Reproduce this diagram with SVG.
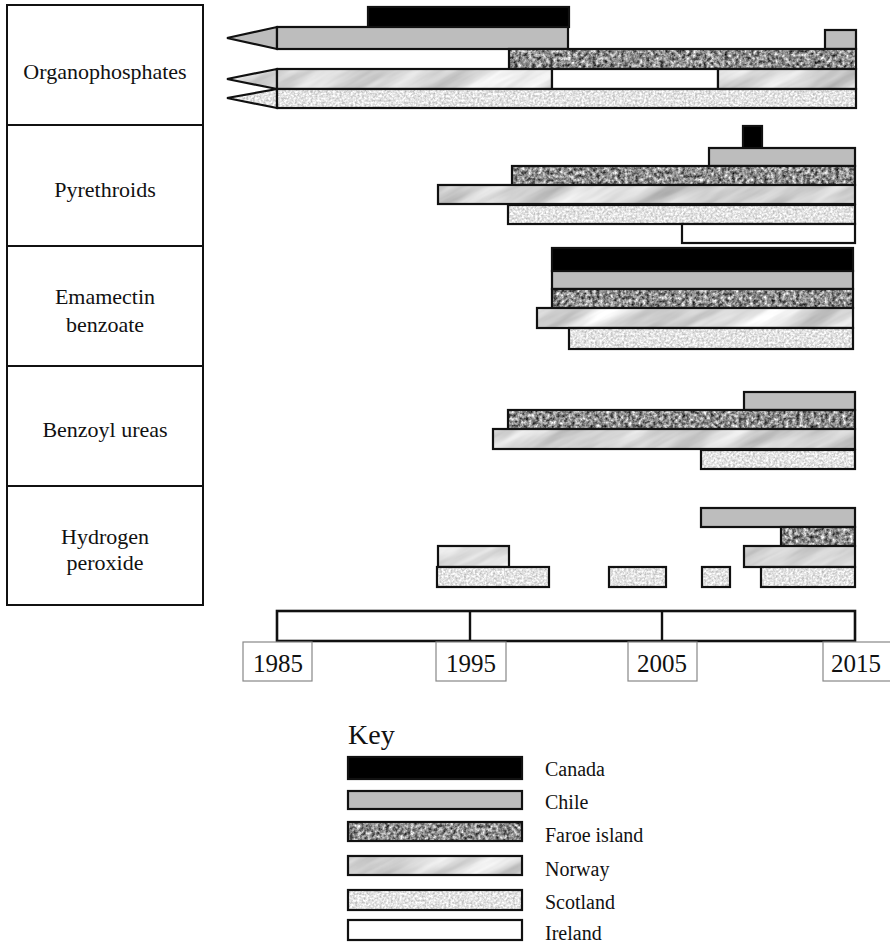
<svg xmlns="http://www.w3.org/2000/svg" width="890" height="946" viewBox="0 0 890 946">
<style>
.cat{fill:#fff;stroke:#111;stroke-width:2}
.lbl{font-family:"Liberation Serif","Times New Roman",serif;font-size:22px;fill:#111;text-anchor:middle}
.yr{font-family:"Liberation Serif","Times New Roman",serif;font-size:25px;fill:#111;text-anchor:middle}
.key{font-family:"Liberation Serif","Times New Roman",serif;font-size:20px;fill:#111}
.b{stroke:#111;stroke-width:2.2;stroke-linejoin:miter}
.ca{fill:#000}
.ch{fill:#bdbdbd}
.fa{fill:url(#pFaroe)}
.no{fill:url(#pNorway)}
.sc{fill:url(#pScot)}
.ir{fill:#fff}
.ybox{fill:#fff;stroke:#888;stroke-width:1.2}
</style>
<defs>
<filter id="fGranite" x="0" y="0" width="1" height="1" filterUnits="objectBoundingBox" color-interpolation-filters="sRGB">
<feTurbulence type="fractalNoise" baseFrequency="0.28" numOctaves="3" seed="4"/>
<feColorMatrix type="matrix" values="1.35 0 0 0 -0.12  1.35 0 0 0 -0.12  1.35 0 0 0 -0.12  0 0 0 0 1"/>
</filter>
<filter id="fMarble" x="0" y="0" width="1" height="1" filterUnits="objectBoundingBox" color-interpolation-filters="sRGB">
<feTurbulence type="fractalNoise" baseFrequency="0.008 0.05" numOctaves="4" seed="7"/>
<feColorMatrix type="matrix" values="0.45 0 0 0 0.62  0.45 0 0 0 0.62  0.45 0 0 0 0.62  0 0 0 0 1"/>
</filter>
<filter id="fScot" x="0" y="0" width="1" height="1" filterUnits="objectBoundingBox" color-interpolation-filters="sRGB">
<feTurbulence type="fractalNoise" baseFrequency="0.45" numOctaves="2" seed="2"/>
<feColorMatrix type="matrix" values="0.5 0 0 0 0.64  0.5 0 0 0 0.64  0.5 0 0 0 0.64  0 0 0 0 1"/>
</filter>
<pattern id="pFaroe" patternUnits="userSpaceOnUse" x="0" y="0" width="890" height="946">
<rect width="890" height="946" filter="url(#fGranite)"/>
</pattern>
<pattern id="pNorway" patternUnits="userSpaceOnUse" x="0" y="0" width="890" height="946">
<rect width="890" height="946" fill="#d6d6d6"/>
<rect x="-600" y="-600" width="2100" height="2100" transform="rotate(-28 445 473)" filter="url(#fMarble)"/>
</pattern>
<pattern id="pScot" patternUnits="userSpaceOnUse" x="0" y="0" width="890" height="946">
<rect width="890" height="946" filter="url(#fScot)"/>
</pattern>
</defs>
<rect width="890" height="946" fill="#fff"/>

<g id="categories">
<g id="cat-organophosphates"><rect class="cat" x="7" y="5" width="196" height="120"/><text class="lbl" x="105" y="79">Organophosphates</text></g>
<g id="cat-pyrethroids"><rect class="cat" x="7" y="125" width="196" height="121"/><text class="lbl" x="105" y="197">Pyrethroids</text></g>
<g id="cat-emamectin"><rect class="cat" x="7" y="246" width="196" height="120"/><text class="lbl" x="105" y="304">Emamectin</text><text class="lbl" x="105" y="332">benzoate</text></g>
<g id="cat-benzoyl"><rect class="cat" x="7" y="366" width="196" height="120"/><text class="lbl" x="105" y="437">Benzoyl ureas</text></g>
<g id="cat-h2o2"><rect class="cat" x="7" y="486" width="196" height="119"/><text class="lbl" x="105" y="544">Hydrogen</text><text class="lbl" x="105" y="570">peroxide</text></g>
</g>

<g id="bars-organophosphates">
<rect class="b ca" x="368" y="7" width="201" height="20"/>
<polygon class="b ch" points="227,38 277,27 277,49"/>
<rect class="b ch" x="277" y="27" width="291" height="22"/>
<rect class="b ch" x="825" y="30" width="31" height="19"/>
<rect class="b fa" x="509" y="49" width="347" height="20"/>
<polygon class="b no" points="227,79 277,69 277,89"/>
<rect class="b no" x="277" y="69" width="275" height="20"/>
<rect class="b ir" x="552" y="69" width="166" height="20"/>
<rect class="b no" x="718" y="69" width="138" height="20"/>
<polygon class="b sc" points="227,98 277,89 277,108"/>
<rect class="b sc" x="277" y="89" width="579" height="19"/>
</g>

<g id="bars-pyrethroids">
<rect class="b ca" x="743" y="126" width="19" height="22"/>
<rect class="b ch" x="709" y="148" width="146" height="18"/>
<rect class="b fa" x="512" y="166" width="343" height="19"/>
<rect class="b no" x="438" y="185" width="417" height="19"/>
<rect class="b sc" x="508" y="205" width="347" height="19"/>
<rect class="b ir" x="682" y="224" width="173" height="19"/>
</g>

<g id="bars-emamectin">
<rect class="b ca" x="552" y="248" width="301" height="23"/>
<rect class="b ch" x="552" y="271" width="301" height="18"/>
<rect class="b fa" x="552" y="289" width="301" height="19"/>
<rect class="b no" x="537" y="308" width="316" height="20"/>
<rect class="b sc" x="569" y="328" width="284" height="21"/>
</g>

<g id="bars-benzoyl">
<rect class="b ch" x="744" y="392" width="111" height="18"/>
<rect class="b fa" x="508" y="410" width="347" height="19"/>
<rect class="b no" x="493" y="429" width="362" height="20"/>
<rect class="b sc" x="701" y="450" width="154" height="19"/>
</g>

<g id="bars-h2o2">
<rect class="b ch" x="701" y="508" width="154" height="19"/>
<rect class="b fa" x="781" y="527" width="74" height="19"/>
<rect class="b no" x="438" y="546" width="71" height="21"/>
<rect class="b no" x="744" y="546" width="111" height="21"/>
<rect class="b sc" x="437" y="567" width="112" height="20"/>
<rect class="b sc" x="609" y="567" width="57" height="20"/>
<rect class="b sc" x="702" y="567" width="28" height="20"/>
<rect class="b sc" x="761" y="567" width="94" height="20"/>
</g>

<g id="axis">
<rect x="277" y="611" width="578" height="30" fill="#fff" stroke="#111" stroke-width="2.6"/>
<line x1="470" y1="611" x2="470" y2="641" stroke="#111" stroke-width="2.4"/>
<line x1="662" y1="611" x2="662" y2="641" stroke="#111" stroke-width="2.4"/>
<rect class="ybox" x="243" y="642" width="69" height="39"/>
<text class="yr" x="278" y="672">1985</text>
<rect class="ybox" x="436" y="642" width="70" height="39"/>
<text class="yr" x="471" y="672">1995</text>
<rect class="ybox" x="628" y="642" width="69" height="39"/>
<text class="yr" x="662" y="672">2005</text>
<rect class="ybox" x="823" y="642" width="70" height="39"/>
<text class="yr" x="856" y="672">2015</text>
</g>

<g id="legend">
<text x="348" y="744" font-family="Liberation Serif, Times New Roman, serif" font-size="28" fill="#111">Key</text>
<rect class="b ca" x="348" y="757" width="174" height="22"/>
<text class="key" x="545" y="776">Canada</text>
<rect class="b ch" x="348" y="791" width="174" height="18"/>
<text class="key" x="545" y="809">Chile</text>
<rect class="b fa" x="348" y="822" width="174" height="19"/>
<text class="key" x="545" y="842">Faroe island</text>
<rect class="b no" x="348" y="856" width="174" height="19"/>
<text class="key" x="545" y="876">Norway</text>
<rect class="b sc" x="348" y="890" width="174" height="20"/>
<text class="key" x="545" y="909">Scotland</text>
<rect class="b ir" x="348" y="920" width="174" height="20"/>
<text class="key" x="545" y="940">Ireland</text>
</g>
</svg>
